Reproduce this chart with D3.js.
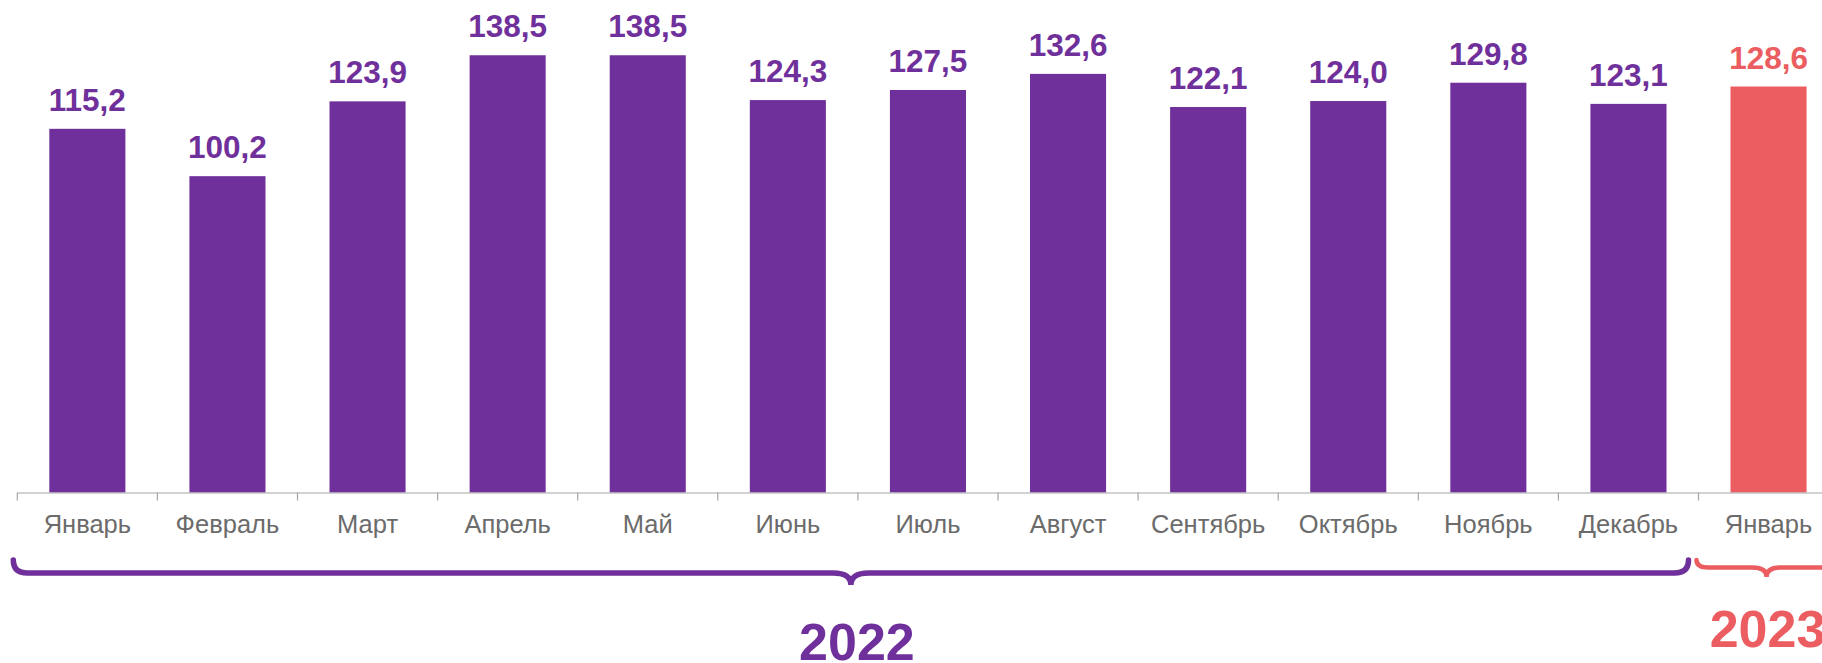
<!DOCTYPE html>
<html><head><meta charset="utf-8">
<script src="https://cdn.jsdelivr.net/npm/d3@7"></script>
<style>html,body{margin:0;padding:0;background:#fff;overflow:hidden}</style>
</head><body>
<svg id="c" width="1822" height="663"></svg>
<script>
const categories = ["Январь","Февраль","Март","Апрель","Май","Июнь","Июль","Август","Сентябрь","Октябрь","Ноябрь","Декабрь","Январь"];
const values = [115.2,100.2,123.9,138.5,138.5,124.3,127.5,132.6,122.1,124.0,129.8,123.1,128.6];
const years = ["2022","2022","2022","2022","2022","2022","2022","2022","2022","2022","2022","2022","2023"];
const yearLabels = ["2022","2023"];

const PURPLE = "#70309b", RED = "#eb5d60", GRAY = "#6b6b6b", AXIS = "#a6a6a6";
const colorOf = y => y === "2023" ? RED : PURPLE;
const svg = d3.select("#c");
const font = "'Liberation Sans', Arial, sans-serif";

const left = 17.3, step = 140.1, n = categories.length;
const idx = d3.range(n);
const xSlot = d3.scaleBand().domain(idx).range([left, left + step*n]).padding(0);
const x = d3.scaleBand().domain(idx).range([left, left + step*n]).paddingInner(0.457).paddingOuter(0.2285);
const y = d3.scaleLinear().domain([0,150]).range([492.5, 492.5 - 3.157*150]);

// bars
svg.append("g").selectAll("rect").data(idx).join("rect")
  .attr("x", i => x(i)).attr("width", x.bandwidth())
  .attr("y", i => y(values[i])).attr("height", i => y(0) - y(values[i]))
  .attr("fill", i => colorOf(years[i]));

// value labels
svg.append("g").selectAll("text").data(idx).join("text")
  .attr("x", i => x(i) + x.bandwidth()/2).attr("y", i => y(values[i]) - 18)
  .attr("text-anchor","middle").attr("font-family", font).attr("font-weight","bold")
  .attr("font-size", 31.5).attr("fill", i => colorOf(years[i]))
  .text(i => values[i].toFixed(1).replace(".", ","));

// axis
const ax = svg.append("g").attr("transform", `translate(0,${y(0)})`)
  .call(d3.axisBottom(xSlot).tickSize(0).tickPadding(22).tickFormat(i => categories[i]));
ax.select(".domain").attr("stroke", AXIS).attr("stroke-width", 1.2);
ax.selectAll(".tick text").attr("font-family", font).attr("font-size", 25.5).attr("fill", GRAY);
ax.selectAll(".bound").data(idx).join("line").attr("class","bound")
  .attr("x1", i => xSlot(i)).attr("x2", i => xSlot(i)).attr("y1", 0).attr("y2", 8)
  .attr("stroke", AXIS).attr("stroke-width", 1.2);

// braces
function brace(x0, x1, yTop, yLine, yTip, r, r2) {
  const cx = (x0 + x1) / 2;
  return `M${x0},${yTop} Q${x0},${yLine} ${x0+r},${yLine} L${cx-r2},${yLine} Q${cx},${yLine} ${cx},${yTip} Q${cx},${yLine} ${cx+r2},${yLine} L${x1-r},${yLine} Q${x1},${yLine} ${x1},${yTop}`;
}
const groups = yearLabels.map(yr => {
  const ids = idx.filter(i => years[i] === yr);
  return {yr, a: xSlot(ids[0]), b: xSlot(ids[ids.length-1]) + xSlot.bandwidth()};
});
const g0 = groups[0], g1 = groups[1];
svg.append("path").attr("d", brace(g0.a - 4, g0.b - 10, 560, 573, 585, 14, 18))
  .attr("fill","none").attr("stroke", PURPLE).attr("stroke-width", 5.5).attr("stroke-linecap","round");
svg.append("path").attr("d", brace(g1.a - 2, g1.b - 2, 560, 567.5, 577, 12, 14))
  .attr("fill","none").attr("stroke", RED).attr("stroke-width", 4.5).attr("stroke-linecap","round");

svg.append("text").attr("x", (g0.a - 4 + g0.b - 10)/2 + 6).attr("y", 659.5)
  .attr("text-anchor","middle").attr("font-family", font).attr("font-weight","bold")
  .attr("font-size", 52).attr("fill", PURPLE).text(g0.yr);
svg.append("text").attr("x", (g1.a + g1.b)/2 - 1).attr("y", 646.5)
  .attr("text-anchor","middle").attr("font-family", font).attr("font-weight","bold")
  .attr("font-size", 52).attr("fill", RED).text(g1.yr);
</script>
</body></html>
